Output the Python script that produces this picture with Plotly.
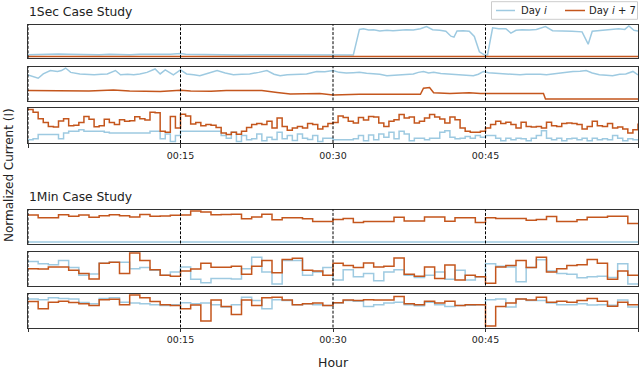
import plotly.graph_objects as go

BLUE = "#9ecae1"
ORANGE = "#c4561d"
SPINE = "#333333"
FONT = "DejaVu Sans"

# ---------------- 1Sec case study (minutes after the hour) ----------------
s1_blue_t = [0, 1, 2, 3, 4, 5, 6, 7, 8, 9, 10, 11, 12, 13, 14, 15, 15.5, 17, 18, 19,
             20, 21, 22, 23, 24, 25, 26, 27, 28, 29, 30, 31, 32.0, 32.6, 33.0, 33.5,
             34.0, 34.6, 35.3, 35.9, 36.6, 37.2, 37.9, 38.6, 39.2, 39.8, 40.5, 41.1,
             41.6, 41.9, 42.2, 42.8, 43.4, 43.9, 44.4, 44.9, 45.2, 45.7, 46.3, 47.0,
             47.5, 48.0, 48.6, 49.3, 50.0, 50.9, 51.6, 52.5, 53.5, 54.5, 55.1, 55.5,
             56.5, 57.3, 58.1, 58.7, 59.1, 59.6, 60]
s1_blue_v = [0.06, 0.07, 0.06, 0.08, 0.07, 0.06, 0.07, 0.06, 0.07, 0.06, 0.06, 0.07,
             0.06, 0.07, 0.07, 0.10, 0.07, 0.06, 0.06, 0.05, 0.06, 0.05, 0.06, 0.06,
             0.05, 0.05, 0.06, 0.05, 0.05, 0.05, 0.04, 0.05, 0.05, 0.88, 0.90, 0.86,
             0.87, 0.83, 0.85, 0.84, 0.86, 0.87, 0.86, 0.90, 0.97, 0.87, 0.85, 0.82,
             0.66, 0.63, 0.83, 0.84, 0.82, 0.65, 0.15, 0.05, 0.05, 0.93, 0.90, 0.90,
             0.76, 0.85, 0.87, 0.86, 0.88, 0.97, 0.84, 0.84, 0.82, 0.80, 0.40, 0.82,
             0.85, 0.87, 0.90, 0.88, 0.99, 0.85, 0.83]
s1_orange_t = [0, 60]
s1_orange_v = [0.0, 0.0]

s2_blue_t = [0, 0.5, 1.0, 1.5, 2.2, 2.9, 3.3, 3.7, 4.2, 5.1, 5.8, 6.5, 7.2, 7.8, 8.6,
             9.1, 9.8, 10.4, 11.0, 11.7, 12.5, 13.0, 13.5, 14.3, 15.0, 15.6, 16.3,
             16.9, 17.8, 18.6, 19.4, 20.2, 21.0, 21.8, 22.7, 23.5, 24.2, 24.8, 25.5,
             26.1, 26.8, 27.4, 28.4, 29.2, 30.0, 30.6, 31.3, 32.0, 32.6, 33.3, 33.9,
             34.6, 35.3, 36.0, 36.6, 37.3, 37.9, 38.4, 38.9, 39.4, 39.9, 40.6, 41.2,
             41.9, 42.5, 43.2, 43.8, 44.3, 44.8, 45.3, 45.7, 46.4, 47.1, 47.8, 48.4,
             49.0, 49.7, 50.4, 51.0, 51.6, 52.3, 53.0, 53.6, 54.3, 54.9, 55.5, 56.2,
             56.9, 57.5, 58.2, 58.8, 59.5, 60]
s2_blue_v = [0.78, 0.73, 0.67, 0.81, 0.92, 0.89, 0.92, 1.00, 0.86, 0.81, 0.80, 0.78,
             0.80, 0.81, 0.92, 0.78, 0.80, 0.78, 0.81, 0.86, 0.97, 0.81, 0.94, 0.78,
             0.94, 0.81, 0.78, 0.75, 0.84, 0.92, 0.84, 0.78, 0.80, 0.81, 0.86, 0.92,
             0.80, 0.75, 0.78, 0.78, 0.80, 0.81, 0.89, 0.88, 0.92, 0.86, 0.84, 0.85,
             0.86, 0.83, 0.81, 0.80, 0.75, 0.77, 0.78, 0.80, 0.81, 0.86, 0.89, 0.84,
             0.86, 0.82, 0.81, 0.80, 0.78, 0.78, 0.75, 0.80, 0.89, 0.85, 0.84, 0.83,
             0.81, 0.80, 0.78, 0.80, 0.81, 0.80, 0.78, 0.81, 0.84, 0.86, 0.89, 0.90,
             0.92, 0.84, 0.78, 0.77, 0.75, 0.80, 0.81, 0.89, 0.78]
s2_orange_t = [0, 4, 6, 8.4, 10, 13, 15, 16, 18, 19.5, 23, 24.5, 25.8, 28.7, 30, 32.6,
               38.6, 38.9, 39.5, 39.9, 41.5, 43.4, 44.5, 50.7, 50.9, 60]
s2_orange_v = [0.27, 0.27, 0.26, 0.29, 0.26, 0.24, 0.28, 0.26, 0.25, 0.27, 0.27, 0.21,
               0.16, 0.18, 0.13, 0.15, 0.15, 0.35, 0.37, 0.20, 0.18, 0.20, 0.18, 0.18,
               0.0, 0.0]

s3_t = [i * 0.5 for i in range(121)]
s3_blue_v = [0.07, 0.10, 0.23, 0.23, 0.23, 0.23, 0.10, 0.28, 0.33, 0.33,
             0.38, 0.33, 0.33, 0.33, 0.33, 0.30, 0.28, 0.28, 0.28, 0.28,
             0.28, 0.28, 0.28, 0.28, 0.33, 0.33, 0.10, 0.25, 0.02, 0.20,
             0.33, 0.33, 0.33, 0.33, 0.33, 0.33, 0.33, 0.33, 0.20, 0.12,
             0.30, 0.02, 0.20, 0.07, 0.10, 0.25, 0.04, 0.15, 0.08, 0.30,
             0.10, 0.20, 0.05, 0.25, 0.12, 0.08, 0.20, 0.02, 0.12, 0.12,
             0.07, 0.07, 0.07, 0.07, 0.10, 0.20, 0.04, 0.22, 0.07, 0.25,
             0.15, 0.30, 0.10, 0.33, 0.25, 0.04, 0.12, 0.12, 0.07, 0.12,
             0.12, 0.30, 0.35, 0.15, 0.10, 0.12, 0.17, 0.12, 0.20, 0.15,
             0.20, 0.20, 0.12, 0.04, 0.12, 0.07, 0.12, 0.10, 0.04, 0.12,
             0.20, 0.35, 0.12, 0.07, 0.12, 0.04, 0.10, 0.12, 0.07, 0.12,
             0.04, 0.12, 0.07, 0.10, 0.07, 0.20, 0.12, 0.04, 0.10, 0.07,
             0.07]
s3_orange_v = [1.00, 0.92, 0.72, 0.60, 0.48, 0.46, 0.65, 0.72, 0.50, 0.52,
               0.60, 0.79, 0.70, 0.47, 0.50, 0.70, 0.60, 0.54, 0.69, 0.64,
               0.66, 0.78, 0.72, 0.68, 0.92, 0.90, 0.33, 0.30, 0.79, 0.43,
               0.86, 0.80, 0.56, 0.60, 0.50, 0.54, 0.52, 0.45, 0.28, 0.23,
               0.30, 0.24, 0.33, 0.45, 0.54, 0.57, 0.54, 0.64, 0.43, 0.74,
               0.48, 0.36, 0.43, 0.48, 0.43, 0.57, 0.54, 0.40, 0.48, 0.57,
               0.60, 0.80, 0.76, 0.64, 0.59, 0.76, 0.68, 0.79, 0.77, 0.59,
               0.48, 0.64, 0.69, 0.85, 0.74, 0.77, 0.59, 0.64, 0.74, 0.85,
               0.77, 0.71, 0.59, 0.77, 0.69, 0.43, 0.33, 0.30, 0.30, 0.33,
               0.43, 0.54, 0.64, 0.57, 0.61, 0.54, 0.43, 0.61, 0.48, 0.46,
               0.48, 0.43, 0.61, 0.50, 0.48, 0.57, 0.59, 0.57, 0.54, 0.40,
               0.48, 0.64, 0.50, 0.48, 0.57, 0.43, 0.46, 0.40, 0.28, 0.38,
               0.57]

# ---------------- 1Min case study (one value per minute) ----------------
m1_blue_v = [0.0] * 60
m1_orange_v = [0.87, 0.78, 0.78, 0.88, 0.83, 0.87, 0.80, 0.85, 0.88, 0.85,
               0.81, 0.89, 0.83, 0.84, 0.86, 0.87, 1.00, 0.97, 0.88, 0.89,
               0.90, 0.75, 0.81, 0.90, 0.72, 0.78, 0.78, 0.75, 0.66, 0.66,
               0.73, 0.76, 0.63, 0.66, 0.66, 0.66, 0.80, 0.68, 0.68, 0.81,
               0.81, 0.67, 0.78, 0.78, 0.63, 0.78, 0.76, 0.76, 0.76, 0.70,
               0.73, 0.82, 0.66, 0.66, 0.72, 0.80, 0.80, 0.83, 0.83, 0.60]
m2_blue_v = [0.73, 0.65, 0.62, 0.76, 0.53, 0.28, 0.32, 0.67, 0.70, 0.70,
             0.49, 0.53, 0.44, 0.28, 0.39, 0.55, 0.15, 0.04, 0.18, 0.18,
             0.16, 0.49, 0.86, 0.39, 0.00, 0.76, 0.76, 0.28, 0.39, 0.53,
             0.13, 0.46, 0.23, 0.34, 0.10, 0.39, 0.46, 0.28, 0.21, 0.28,
             0.39, 0.15, 0.44, 0.13, 0.23, 0.65, 0.57, 0.55, 0.07, 0.53,
             0.78, 0.42, 0.34, 0.31, 0.20, 0.23, 0.25, 0.21, 0.65, 0.00]
m2_orange_v = [0.49, 0.48, 0.55, 0.55, 0.44, 0.34, 0.16, 0.67, 0.70, 0.34,
               1.00, 0.76, 0.46, 0.28, 0.25, 0.42, 0.48, 0.67, 0.54, 0.54,
               0.57, 0.31, 0.57, 0.76, 0.36, 0.79, 0.83, 0.44, 0.42, 0.28,
               0.67, 0.60, 0.53, 0.68, 0.55, 0.57, 0.84, 0.31, 0.25, 0.55,
               0.18, 0.61, 0.13, 0.28, 0.23, 0.02, 0.55, 0.60, 0.76, 0.53,
               0.86, 0.39, 0.49, 0.60, 0.62, 0.79, 0.67, 0.15, 0.42, 0.28]
m3_blue_v = [0.87, 0.85, 0.91, 0.89, 0.87, 0.76, 0.72, 0.89, 0.91, 0.77,
             0.74, 0.72, 0.69, 0.66, 0.69, 0.75, 0.72, 0.74, 0.69, 0.61,
             0.69, 0.93, 0.82, 0.56, 0.85, 0.82, 0.69, 0.72, 0.69, 0.66,
             0.74, 0.82, 0.80, 0.63, 0.69, 0.74, 0.77, 0.69, 0.65, 0.77,
             0.69, 0.63, 0.66, 0.67, 0.69, 0.85, 0.87, 0.61, 0.87, 0.82,
             0.82, 0.74, 0.69, 0.69, 0.72, 0.68, 0.69, 0.67, 0.84, 0.61]
m3_orange_v = [0.79, 0.56, 0.77, 0.80, 0.76, 0.72, 0.66, 0.85, 0.86, 0.69,
               1.00, 0.91, 0.79, 0.69, 0.66, 0.56, 0.68, 0.16, 0.84, 0.63,
               0.37, 0.84, 0.66, 0.91, 0.93, 0.84, 0.69, 0.72, 0.74, 0.66,
               0.75, 0.84, 0.82, 0.85, 0.84, 0.84, 0.95, 0.72, 0.69, 0.80,
               0.74, 0.80, 0.66, 0.69, 0.69, 0.00, 0.63, 0.74, 0.87, 0.84,
               0.93, 0.77, 0.80, 0.77, 0.82, 0.89, 0.80, 0.64, 0.77, 0.69]

series_names = ["Day <i>i</i>", "Day <i>i</i> + 7"]
tick_vals = [0, 15, 30, 45, 60]
tick_text = ["", "00:15", "00:30", "00:45", ""]
vline_at = [0, 15, 30, 45]


def minute_steps(vals):
    # per-minute values drawn as steps running to the end of the hour
    xs = list(range(len(vals))) + [len(vals)]
    return xs, list(vals) + [vals[-1]]


panels = [
    ((s1_blue_t, s1_blue_v), (s1_orange_t, s1_orange_v), "linear"),
    ((s2_blue_t, s2_blue_v), (s2_orange_t, s2_orange_v), "linear"),
    ((s3_t, s3_blue_v), (s3_t, s3_orange_v), "hv"),
    (minute_steps(m1_blue_v), minute_steps(m1_orange_v), "hv"),
    (minute_steps(m2_blue_v), minute_steps(m2_orange_v), "hv"),
    (minute_steps(m3_blue_v), minute_steps(m3_orange_v), "hv"),
]

W, H = 640, 369
PL, PR = 28, 638  # x of the plot area
# top / bottom pixel rows of each panel box
panel_px = [(24.5, 58), (66.5, 100.5), (108, 143),
            (209.5, 243.5), (251.5, 285.5), (293.5, 327.5)]


def px_y(p):
    return (H - p) / H


def px_x(p):
    return (p - PL) / (PR - PL)


fig = go.Figure()
layout = {}
shapes = []

for k, ((bt, bv), (ot, ov), shape) in enumerate(panels, start=1):
    xa = "x" if k == 1 else f"x{k}"
    ya = "y" if k == 1 else f"y{k}"
    fig.add_trace(go.Scatter(x=bt, y=bv, mode="lines", name=series_names[0],
                             line=dict(color=BLUE, width=1.5, shape=shape),
                             xaxis=xa, yaxis=ya, showlegend=False))
    fig.add_trace(go.Scatter(x=ot, y=ov, mode="lines", name=series_names[1],
                             line=dict(color=ORANGE, width=1.5, shape=shape),
                             xaxis=xa, yaxis=ya, showlegend=False))

    lo = min(min(bv), min(ov))
    hi = max(max(bv), max(ov))
    pad = 0.05 * (hi - lo)
    top, bot = panel_px[k - 1]
    labelled = k in (3, 6)

    layout["xaxis" if k == 1 else f"xaxis{k}"] = dict(
        domain=[0, 1], anchor=ya, range=[0, 60],
        showline=True, mirror=True, linecolor=SPINE, linewidth=1,
        showgrid=False, zeroline=False,
        tickvals=tick_vals, ticktext=tick_text,
        showticklabels=labelled, ticks="outside" if labelled else "",
        ticklen=3.5, tickcolor=SPINE, tickfont=dict(size=9.5, color="#222"),
    )
    layout["yaxis" if k == 1 else f"yaxis{k}"] = dict(
        domain=[px_y(bot), px_y(top)], anchor=xa,
        range=[lo - pad, hi + pad],
        showline=True, mirror=True, linecolor=SPINE, linewidth=1,
        showgrid=False, zeroline=False, showticklabels=False, ticks="",
    )
    for v in vline_at:
        shapes.append(dict(type="line", xref=xa, yref=f"{ya} domain",
                           x0=v, x1=v, y0=0, y1=1,
                           line=dict(color="black", width=1, dash="3px,1.6px")))

# legend box in the top-right corner, drawn like matplotlib's
shapes.append(dict(type="rect", xref="paper", yref="paper",
                   x0=px_x(491.5), x1=px_x(637.5), y0=px_y(19.3), y1=px_y(1.7),
                   line=dict(color="#cccccc", width=1), fillcolor="white",
                   layer="above"))
for (a, b), col in (((496, 515), BLUE), ((565, 585), ORANGE)):
    shapes.append(dict(type="line", xref="paper", yref="paper",
                       x0=px_x(a), x1=px_x(b), y0=px_y(10.5), y1=px_y(10.5),
                       line=dict(color=col, width=1.5), layer="above"))


def text_at(text, cx, cy, size, angle=0):
    # all labels are centre-anchored at a pixel position
    return dict(text=text, x=px_x(cx), y=px_y(cy), xref="paper", yref="paper",
                xanchor="center", yanchor="middle", showarrow=False,
                textangle=angle, font=dict(size=size, color="#222"))


annotations = [
    text_at("1Sec Case Study", 80, 12, 12.3),
    text_at("1Min Case Study", 80, 197, 12.3),
    text_at("Normalized Current (I)", 9, 175, 12, angle=-90),
    text_at("Hour", 333, 362, 12.5),
    text_at(series_names[0], 534, 10.5, 10),
    text_at(series_names[1], 612, 10.5, 10),
]

fig.update_layout(
    width=W, height=H,
    margin=dict(l=PL, r=W - PR, t=0, b=0),
    paper_bgcolor="white", plot_bgcolor="white",
    font=dict(family=FONT, color="#222"),
    shapes=shapes, annotations=annotations, showlegend=False,
    **layout,
)

# drop the page's default 8px body margin so the figure sits at the window corner
fig.write_html("out.html", config={"displayModeBar": False},
               post_script="document.body.style.margin = '0';")
